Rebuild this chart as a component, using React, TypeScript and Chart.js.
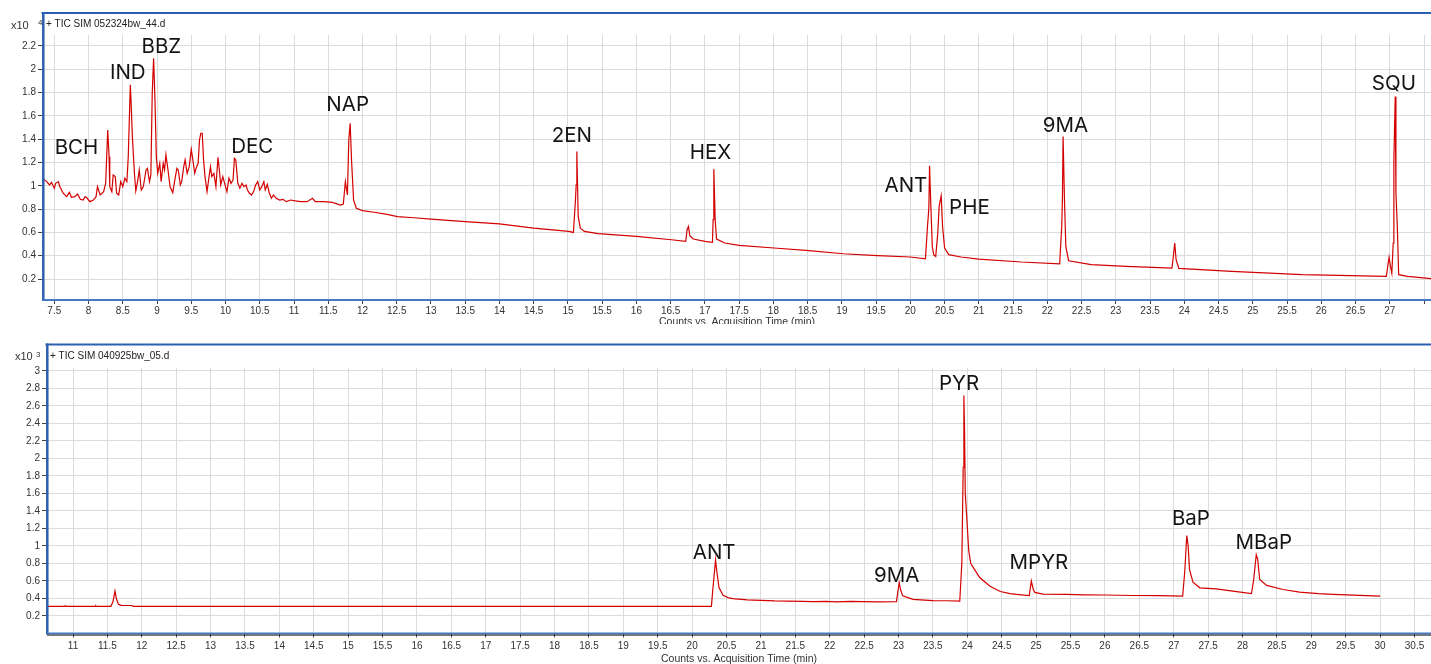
import React, { useEffect, useRef } from 'react';
import { Chart, registerables } from 'chart.js';

Chart.register(...registerables);

// ---------- Upper panel: + TIC SIM 052324bw_44.d (counts x10^4) ----------
const UPPER_TIME = [
  7.335, 7.39, 7.43, 7.46, 7.5, 7.52, 7.56, 7.58, 7.63, 7.68, 7.72, 7.75, 7.8, 7.84, 7.88, 7.92, 7.95, 7.98,
  8.02, 8.07, 8.11, 8.13, 8.17, 8.22, 8.25, 8.28, 8.3, 8.31, 8.34, 8.36, 8.39, 8.41, 8.44, 8.47, 8.5, 8.53,
  8.56, 8.58, 8.61, 8.62, 8.64, 8.67, 8.69, 8.72, 8.74, 8.77, 8.8, 8.84, 8.86, 8.89, 8.91, 8.93, 8.95, 8.97,
  8.99, 9.01, 9.04, 9.06, 9.09, 9.11, 9.13, 9.16, 9.19, 9.23, 9.26, 9.29, 9.31, 9.34, 9.36, 9.39, 9.41, 9.44,
  9.47, 9.5, 9.52, 9.55, 9.57, 9.6, 9.62, 9.64, 9.66, 9.68, 9.7, 9.73, 9.75, 9.78, 9.8, 9.83, 9.86, 9.89,
  9.91, 9.93, 9.96, 10.0, 10.02, 10.05, 10.08, 10.11, 10.13, 10.15, 10.18, 10.21, 10.24, 10.27, 10.3, 10.32,
  10.35, 10.38, 10.41, 10.44, 10.47, 10.5, 10.53, 10.56, 10.58, 10.61, 10.64, 10.67, 10.7, 10.74, 10.79,
  10.84, 10.89, 10.95, 11.02, 11.1, 11.19, 11.27, 11.31, 11.44, 11.56, 11.68, 11.72, 11.75, 11.78, 11.8,
  11.82, 11.84, 11.87, 11.91, 12.0, 12.17, 12.36, 12.51, 12.75, 13.0, 13.5, 14.0, 14.5, 15.01, 15.08, 15.11,
  15.12, 15.13, 15.14, 15.15, 15.18, 15.24, 15.44, 16.0, 16.51, 16.72, 16.74, 16.76, 16.78, 16.83, 17.0,
  17.11, 17.12, 17.13, 17.15, 17.17, 17.29, 17.5, 18.01, 18.52, 19.02, 19.52, 20.0, 20.22, 20.25, 20.27,
  20.28, 20.3, 20.32, 20.34, 20.37, 20.4, 20.42, 20.45, 20.47, 20.5, 20.56, 20.74, 21.0, 21.62, 22.18,
  22.21, 22.22, 22.23, 22.25, 22.27, 22.31, 22.64, 23.15, 23.82, 23.84, 23.86, 23.88, 23.92, 24.69, 25.72,
  26.95, 26.97, 26.99, 27.01, 27.03, 27.05, 27.06, 27.08, 27.09, 27.11, 27.13, 27.26, 27.61,
];
const UPPER_COUNTS = [
  1.06, 1.036, 1.007, 1.03, 0.979, 1.021, 1.036, 0.993, 0.936, 0.907, 0.944, 0.901, 0.907, 0.93, 0.884, 0.878, 0.907, 0.893,
  0.864, 0.878, 0.907, 0.993, 0.921, 0.95, 1.021, 1.479, 1.25, 0.993, 0.95, 1.093, 1.079, 0.936, 0.921, 1.036, 0.993, 1.064,
  1.036, 1.25, 1.866, 1.737, 1.422, 1.107, 0.956, 1.05, 1.136, 0.964, 0.993, 1.136, 1.15, 1.036, 1.093, 1.794, 2.094, 1.737,
  1.25, 1.107, 1.193, 1.036, 1.193, 1.136, 1.265, 1.136, 0.993, 0.941, 1.05, 1.15, 1.136, 1.007, 1.036, 1.164, 1.222, 1.107,
  1.164, 1.313, 1.236, 1.107, 1.15, 1.193, 1.393, 1.451, 1.451, 1.222, 1.079, 0.95, 1.036, 1.164, 1.079, 1.107, 0.993, 1.245,
  1.136, 1.007, 1.079, 0.993, 0.95, 1.064, 1.021, 1.05, 1.236, 1.222, 1.021, 0.979, 1.021, 0.993, 1.007, 0.964,
  0.936, 0.921, 0.95, 1.007, 1.036, 0.964, 0.993, 1.036, 0.964, 1.013, 0.936, 0.893, 0.921, 0.893, 0.878,
  0.884, 0.864, 0.878, 0.87, 0.864, 0.864, 0.893, 0.864, 0.864, 0.858, 0.835, 0.844, 1.036, 0.921, 1.393,
  1.536, 1.222, 0.878, 0.807, 0.787, 0.773, 0.755, 0.735, 0.726, 0.714, 0.693, 0.674, 0.637, 0.609, 0.6, 0.88,
  1.009, 1.294, 1.009, 0.737, 0.637, 0.609, 0.589, 0.566, 0.537, 0.523, 0.623, 0.651, 0.571, 0.543, 0.523,
  0.514, 0.709, 1.143, 0.709, 0.543, 0.509, 0.489, 0.466, 0.443, 0.417, 0.4, 0.389, 0.374, 0.651, 0.809,
  1.171, 0.809, 0.48, 0.409, 0.394, 0.594, 0.823, 0.914, 0.651, 0.466, 0.409, 0.389, 0.371, 0.346, 0.331,
  0.651, 0.88, 1.423, 0.88, 0.48, 0.357, 0.323, 0.309, 0.294, 0.394, 0.509, 0.366, 0.291, 0.266, 0.237,
  0.223, 0.309, 0.386, 0.309, 0.251, 0.509, 1.223, 1.766, 0.937, 0.651, 0.237, 0.223, 0.203,
];
const UPPER_PEAK_NAMES = ['BCH', 'IND', 'BBZ', 'DEC', 'NAP', '2EN', 'HEX', 'ANT', 'PHE', '9MA', 'SQU'];
const UPPER_PEAK_LABEL_TIME = [7.824, 8.573, 9.063, 10.391, 11.784, 15.056, 17.082, 19.935, 20.862, 22.264, 27.06];
const UPPER_PEAK_LABEL_LEVEL = [1.324, 1.973, 2.19, 1.333, 1.695, 1.429, 1.286, 1.0, 0.814, 1.515, 1.872];
const UPPER_X_TICKS = [
  7.5, 8, 8.5, 9, 9.5, 10, 10.5, 11, 11.5, 12, 12.5, 13, 13.5, 14, 14.5, 15, 15.5, 16, 16.5, 17, 17.5,
  18, 18.5, 19, 19.5, 20, 20.5, 21, 21.5, 22, 22.5, 23, 23.5, 24, 24.5, 25, 25.5, 26, 26.5, 27, 27.5,
];
const UPPER_X_TICK_LABELS = [
  '7.5', '8', '8.5', '9', '9.5', '10', '10.5', '11', '11.5', '12', '12.5', '13', '13.5', '14', '14.5', '15', '15.5',
  '16', '16.5', '17', '17.5', '18', '18.5', '19', '19.5', '20', '20.5', '21', '21.5', '22', '22.5', '23', '23.5',
  '24', '24.5', '25', '25.5', '26', '26.5', '27', '',
];
const UPPER_Y_TICKS = [0.2, 0.4, 0.6, 0.8, 1, 1.2, 1.4, 1.6, 1.8, 2, 2.2];
const UPPER_Y_TICK_LABELS = ['0.2', '0.4', '0.6', '0.8', '1', '1.2', '1.4', '1.6', '1.8', '2', '2.2'];

// ---------- Lower panel: + TIC SIM 040925bw_05.d (counts x10^3) ----------
const LOWER_TIME = [
  10.62, 10.88, 10.89, 10.9, 11.32, 11.33, 11.34, 11.55, 11.58, 11.61, 11.63, 11.66, 11.7, 11.85, 11.88,
  20.28, 20.3, 20.34, 20.36, 20.39, 20.45, 20.52, 20.59, 20.8, 21.0, 21.2, 21.4, 21.6, 21.76, 21.95, 22.1,
  22.3, 22.49, 22.7, 22.97, 22.99, 23.01, 23.03, 23.06, 23.21, 23.5, 23.7, 23.89, 23.92, 23.94, 23.95,
  23.96, 23.97, 23.99, 24.02, 24.05, 24.09, 24.18, 24.33, 24.48, 24.62, 24.75, 24.9, 24.93, 24.96, 24.98,
  25.1, 25.44, 25.7, 26.0, 26.41, 26.8, 27.13, 27.16, 27.19, 27.21, 27.23, 27.28, 27.38, 27.62, 27.86,
  28.13, 28.16, 28.2, 28.22, 28.25, 28.35, 28.59, 28.83, 29.1, 29.32, 29.7, 30.0,
];
const LOWER_COUNTS = [
  0.31, 0.31, 0.318, 0.31, 0.31, 0.318, 0.31, 0.31, 0.36, 0.485, 0.4, 0.335, 0.322, 0.32, 0.31,
  0.31, 0.5, 0.84, 0.7, 0.524, 0.436, 0.41, 0.398, 0.385, 0.379, 0.372, 0.37, 0.366, 0.364, 0.368, 0.362,
  0.366, 0.364, 0.362, 0.365, 0.48, 0.581, 0.5, 0.43, 0.39, 0.375, 0.374, 0.371, 0.8, 1.9, 2.72,
  2.3, 1.6, 1.35, 0.95, 0.8, 0.75, 0.64, 0.54, 0.48, 0.455, 0.445, 0.434, 0.6, 0.5, 0.47,
  0.45, 0.446, 0.442, 0.44, 0.434, 0.432, 0.427, 0.7, 1.12, 1.0, 0.73, 0.587, 0.522, 0.51, 0.484,
  0.457, 0.6, 0.9, 0.85, 0.617, 0.55, 0.503, 0.472, 0.455, 0.446, 0.435, 0.427,
];
const LOWER_PEAK_NAMES = ['ANT', '9MA', 'PYR', 'MPYR', 'BaP', 'MBaP'];
const LOWER_PEAK_LABEL_TIME = [20.32, 22.974, 23.88, 25.04, 27.25, 28.31];
const LOWER_PEAK_LABEL_LEVEL = [0.926, 0.663, 2.849, 0.811, 1.312, 1.04];
const LOWER_X_TICKS = [
  11, 11.5, 12, 12.5, 13, 13.5, 14, 14.5, 15, 15.5, 16, 16.5, 17, 17.5, 18, 18.5, 19, 19.5, 20, 20.5,
  21, 21.5, 22, 22.5, 23, 23.5, 24, 24.5, 25, 25.5, 26, 26.5, 27, 27.5, 28, 28.5, 29, 29.5, 30, 30.5,
];
const LOWER_X_TICK_LABELS = [
  '11', '11.5', '12', '12.5', '13', '13.5', '14', '14.5', '15', '15.5', '16', '16.5', '17', '17.5', '18', '18.5',
  '19', '19.5', '20', '20.5', '21', '21.5', '22', '22.5', '23', '23.5', '24', '24.5', '25', '25.5', '26', '26.5',
  '27', '27.5', '28', '28.5', '29', '29.5', '30', '30.5',
];
const LOWER_Y_TICKS = [0.2, 0.4, 0.6, 0.8, 1, 1.2, 1.4, 1.6, 1.8, 2, 2.2, 2.4, 2.6, 2.8, 3];
const LOWER_Y_TICK_LABELS = ['0.2', '0.4', '0.6', '0.8', '1', '1.2', '1.4', '1.6', '1.8', '2', '2.2', '2.4', '2.6', '2.8', '3'];

const AXIS_TITLE = 'Counts vs. Acquisition Time (min)';

// ---------- styling ----------
const TRACE_COLOR = 'rgb(212, 0, 0)';
const FRAME_BLUE = '#2d5fb0';
const FRAME_BLUE_LIGHT = '#4677c2';
const GRID_COLOR = '#dcdcdc';
const TEXT_FAMILY = '"Liberation Sans", Arial, sans-serif';
const LABEL_FAMILY = 'Inter, "Noto Sans", sans-serif';

const framePlugin = {
  id: 'panelFrame',
  afterDraw(chart: any, _args: any, o: any) {
    const { ctx, chartArea, scales } = chart;
    const { left, right, bottom } = chartArea;
    const W = chart.width;
    ctx.save();
    // frame lines
    ctx.strokeStyle = FRAME_BLUE;
    ctx.lineWidth = 2;
    ctx.beginPath();
    ctx.moveTo(left - 1.5, o.frameTop);
    ctx.lineTo(W, o.frameTop);
    ctx.stroke();
    ctx.lineWidth = 2.5;
    ctx.beginPath();
    ctx.moveTo(left + 0.3, o.frameTop - 1);
    ctx.lineTo(left + 0.3, bottom + 1);
    ctx.stroke();
    ctx.strokeStyle = FRAME_BLUE_LIGHT;
    ctx.lineWidth = 2;
    ctx.beginPath();
    ctx.moveTo(left, bottom);
    ctx.lineTo(W, bottom);
    ctx.stroke();
    if (o.darkAxisLine) {
      ctx.strokeStyle = '#1e1e1e';
      ctx.lineWidth = 1;
      ctx.beginPath();
      ctx.moveTo(left, bottom + 1.6);
      ctx.lineTo(W, bottom + 1.6);
      ctx.stroke();
    }
    // panel title
    ctx.fillStyle = '#222';
    ctx.textAlign = 'left';
    ctx.textBaseline = 'middle';
    ctx.font = `10px ${TEXT_FAMILY}`;
    ctx.fillText(o.title, o.titleX, o.titleY);
    // multiplier
    ctx.font = `11px ${TEXT_FAMILY}`;
    ctx.fillStyle = '#333';
    ctx.fillText('x10', o.multX, o.multY);
    ctx.font = `8px ${TEXT_FAMILY}`;
    ctx.fillText(o.exponent, o.expX, o.expY);
    // axis title
    ctx.font = `10.5px ${TEXT_FAMILY}`;
    ctx.textAlign = 'center';
    ctx.textBaseline = 'top';
    ctx.fillText(AXIS_TITLE, (left + right) / 2, o.axisTitleY);
    // peak labels
    ctx.font = `20.5px ${LABEL_FAMILY}`;
    ctx.fillStyle = '#141414';
    ctx.textBaseline = 'middle';
    o.names.forEach((n: string, i: number) => {
      ctx.fillText(n, scales.x.getPixelForValue(o.labelTime[i]), scales.y.getPixelForValue(o.labelLevel[i]));
    });
    ctx.restore();
  },
};

function buildConfig(p: any): any {
  const tickFont = { family: TEXT_FAMILY, size: 10 };
  return {
    type: 'line',
    data: {
      datasets: [
        {
          data: p.time.map((t: number, i: number) => ({ x: t, y: p.counts[i] })),
          borderColor: TRACE_COLOR,
          borderWidth: 1.2,
          pointRadius: 0,
          tension: 0,
          fill: false,
        },
      ],
    },
    options: {
      responsive: false,
      animation: false,
      events: [],
      layout: { padding: { top: p.areaTop, left: 0, right: 0, bottom: 0 } },
      plugins: {
        legend: { display: false },
        tooltip: { enabled: false },
        title: { display: false },
        panelFrame: p.frame,
      },
      scales: {
        x: {
          type: 'linear',
          min: p.xMin,
          max: p.xMax,
          afterBuildTicks: (s: any) => {
            s.ticks = p.xTicks.map((v: number) => ({ value: v }));
          },
          afterFit: (s: any) => {
            s.height = p.xAxisHeight;
          },
          ticks: {
            autoSkip: false,
            maxRotation: 0,
            minRotation: 0,
            padding: p.xTickPadding,
            font: tickFont,
            color: '#333',
            callback: (_v: any, i: number) => p.xTickLabels[i],
          },
          grid: { color: GRID_COLOR, lineWidth: 1, drawTicks: true, tickLength: 4, tickColor: '#444', tickWidth: 1 },
          border: { display: false },
        },
        y: {
          type: 'linear',
          min: p.yMin,
          max: p.yMax,
          afterBuildTicks: (s: any) => {
            s.ticks = p.yTicks.map((v: number) => ({ value: v }));
          },
          afterFit: (s: any) => {
            s.width = p.yAxisWidth;
          },
          ticks: {
            autoSkip: false,
            padding: 2,
            font: tickFont,
            color: '#333',
            callback: (_v: any, i: number) => p.yTickLabels[i],
          },
          grid: { color: GRID_COLOR, lineWidth: 1, drawTicks: true, tickLength: 5, tickColor: '#444', tickWidth: 1 },
          border: { display: false },
        },
      },
    },
    plugins: [framePlugin],
  };
}

const UPPER_PANEL = {
  time: UPPER_TIME,
  counts: UPPER_COUNTS,
  xTicks: UPPER_X_TICKS,
  xTickLabels: UPPER_X_TICK_LABELS,
  yTicks: UPPER_Y_TICKS,
  yTickLabels: UPPER_Y_TICK_LABELS,
  xMin: 7.335,
  xMax: 27.602,
  yMin: 0.02,
  yMax: 2.294,
  areaTop: 35,
  xAxisHeight: 24,
  yAxisWidth: 43,
  xTickPadding: 1,
  frame: {
    frameTop: 13,
    title: '+ TIC SIM 052324bw_44.d',
    titleX: 46,
    titleY: 24,
    multX: 11,
    multY: 25.5,
    exponent: '4',
    expX: 38,
    expY: 22.5,
    axisTitleY: 317,
    darkAxisLine: false,
    names: UPPER_PEAK_NAMES,
    labelTime: UPPER_PEAK_LABEL_TIME,
    labelLevel: UPPER_PEAK_LABEL_LEVEL,
  },
};

const LOWER_PANEL = {
  time: LOWER_TIME,
  counts: LOWER_COUNTS,
  xTicks: LOWER_X_TICKS,
  xTickLabels: LOWER_X_TICK_LABELS,
  yTicks: LOWER_Y_TICKS,
  yTickLabels: LOWER_Y_TICK_LABELS,
  xMin: 10.622,
  xMax: 30.74,
  yMin: 0,
  yMax: 3.034,
  areaTop: 36,
  xAxisHeight: 30.5,
  yAxisWidth: 47,
  xTickPadding: 3,
  frame: {
    frameTop: 12.5,
    title: '+ TIC SIM 040925bw_05.d',
    titleX: 50,
    titleY: 24,
    multX: 15,
    multY: 25,
    exponent: '3',
    expX: 36,
    expY: 23,
    axisTitleY: 321.5,
    darkAxisLine: true,
    names: LOWER_PEAK_NAMES,
    labelTime: LOWER_PEAK_LABEL_TIME,
    labelLevel: LOWER_PEAK_LABEL_LEVEL,
  },
};

export default function App() {
  const upperRef = useRef<HTMLCanvasElement>(null);
  const lowerRef = useRef<HTMLCanvasElement>(null);

  useEffect(() => {
    const charts = [
      new Chart(upperRef.current as HTMLCanvasElement, buildConfig(UPPER_PANEL)),
      new Chart(lowerRef.current as HTMLCanvasElement, buildConfig(LOWER_PANEL)),
    ];
    return () => charts.forEach((c) => c.destroy());
  }, []);

  return (
    <div
      style={{
        position: 'absolute',
        left: 0,
        top: 0,
        width: 1431,
        height: 664,
        background: '#ffffff',
        overflow: 'hidden',
      }}
    >
      <canvas
        ref={upperRef}
        width={1431}
        height={324}
        style={{ position: 'absolute', left: 0, top: 0, width: 1431, height: 324 }}
      />
      <canvas
        ref={lowerRef}
        width={1431}
        height={332}
        style={{ position: 'absolute', left: 0, top: 332, width: 1431, height: 332 }}
      />
    </div>
  );
}
